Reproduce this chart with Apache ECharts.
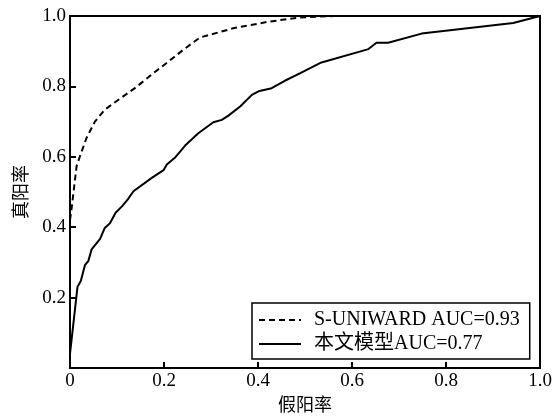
<!DOCTYPE html>
<html>
<head>
<meta charset="utf-8">
<script src="https://cdn.jsdelivr.net/npm/echarts@6/dist/echarts.min.js"></script>
<style>html,body{margin:0;padding:0;background:#fff}#c{width:556px;height:420px}</style>
</head>
<body>
<div id="c"></div>
<script>
var xTicks = [0, 0.2, 0.4, 0.6, 0.8, 1.0];
var seriesNames = ['S-UNIWARD AUC=0.93', '本文模型AUC=0.77'];
var dashedX = [0, 0.004, 0.014, 0.021, 0.035, 0.053, 0.074, 0.103, 0.138, 0.177, 0.209, 0.241, 0.262, 0.277, 0.347, 0.419, 0.489, 0.56, 0.75, 1.0];
var dashedY = [0.42, 0.46, 0.573, 0.601, 0.653, 0.700, 0.734, 0.762, 0.795, 0.837, 0.870, 0.904, 0.925, 0.939, 0.965, 0.983, 0.996, 1.0, 1.0, 1.0];
var solidX = [0, 0.016, 0.023, 0.032, 0.039, 0.046, 0.064, 0.074, 0.085, 0.097, 0.111, 0.123, 0.135, 0.174, 0.199, 0.206, 0.223, 0.245, 0.273, 0.305, 0.323, 0.337, 0.362, 0.387, 0.401, 0.429, 0.457, 0.489, 0.535, 0.635, 0.652, 0.677, 0.748, 0.943, 1.0];
var solidY = [0.04, 0.231, 0.247, 0.293, 0.304, 0.337, 0.367, 0.398, 0.411, 0.441, 0.460, 0.479, 0.502, 0.540, 0.562, 0.578, 0.597, 0.632, 0.667, 0.698, 0.705, 0.717, 0.743, 0.776, 0.786, 0.795, 0.816, 0.837, 0.868, 0.906, 0.924, 0.924, 0.950, 0.980, 1.0];

function pairs(xs, ys) { return xs.map(function (x, i) { return [x, ys[i]]; }); }

var serif = '"Liberation Serif", "Times New Roman", serif';
var cjk = '"Liberation Serif", "Noto Sans CJK SC", serif';

var chart = echarts.init(document.getElementById('c'));
chart.setOption({
  animation: false,
  backgroundColor: '#fff',
  grid: { left: 70, right: 16, top: 16, bottom: 51, show: true, borderColor: '#000', borderWidth: 2, containLabel: false },
  legend: {
    orient: 'vertical',
    left: 252, top: 303,
    padding: [7, 10, 5, 6],
    itemWidth: 42, itemHeight: 14, itemGap: 4,
    borderColor: '#000', borderWidth: 1.5,
    backgroundColor: '#fff',
    data: seriesNames,
    itemStyle: { opacity: 0 },
    textStyle: { fontFamily: cjk, fontSize: 20, color: '#000', padding: [0, 0, 0, 8] }
  },
  xAxis: {
    type: 'value', min: 0, max: 1, interval: 0.2,
    name: '假阳率', nameLocation: 'middle', nameGap: 29,
    nameTextStyle: { fontFamily: cjk, fontSize: 18, color: '#000' },
    axisLine: { show: true, lineStyle: { color: '#000', width: 2 } },
    axisTick: { show: true, inside: true, length: 6, lineStyle: { color: '#000', width: 2 } },
    axisLabel: { fontFamily: serif, fontSize: 19, color: '#000', margin: 4,
      formatter: function (v) { return v === 0 ? '0' : v.toFixed(1); } },
    splitLine: { show: false }
  },
  yAxis: {
    type: 'value', min: 0, max: 1, interval: 0.2,
    name: '真阳率', nameLocation: 'middle', nameGap: 37,
    nameTextStyle: { fontFamily: cjk, fontSize: 18, color: '#000' },
    axisLine: { show: true, lineStyle: { color: '#000', width: 2 } },
    axisTick: { show: true, inside: true, length: 6, lineStyle: { color: '#000', width: 2 } },
    axisLabel: { fontFamily: serif, fontSize: 19, color: '#000', margin: 4,
      formatter: function (v) { return v === 0 ? '' : v.toFixed(1); } },
    splitLine: { show: false }
  },
  series: [
    { name: seriesNames[0], type: 'line', data: pairs(dashedX, dashedY), symbol: 'none', smooth: false,
      lineStyle: { color: '#000', width: 2, type: [6, 4] }, itemStyle: { color: '#000' } },
    { name: seriesNames[1], type: 'line', data: pairs(solidX, solidY), symbol: 'none', smooth: false,
      lineStyle: { color: '#000', width: 2, type: 'solid' }, itemStyle: { color: '#000' } }
  ]
});
</script>
</body>
</html>
